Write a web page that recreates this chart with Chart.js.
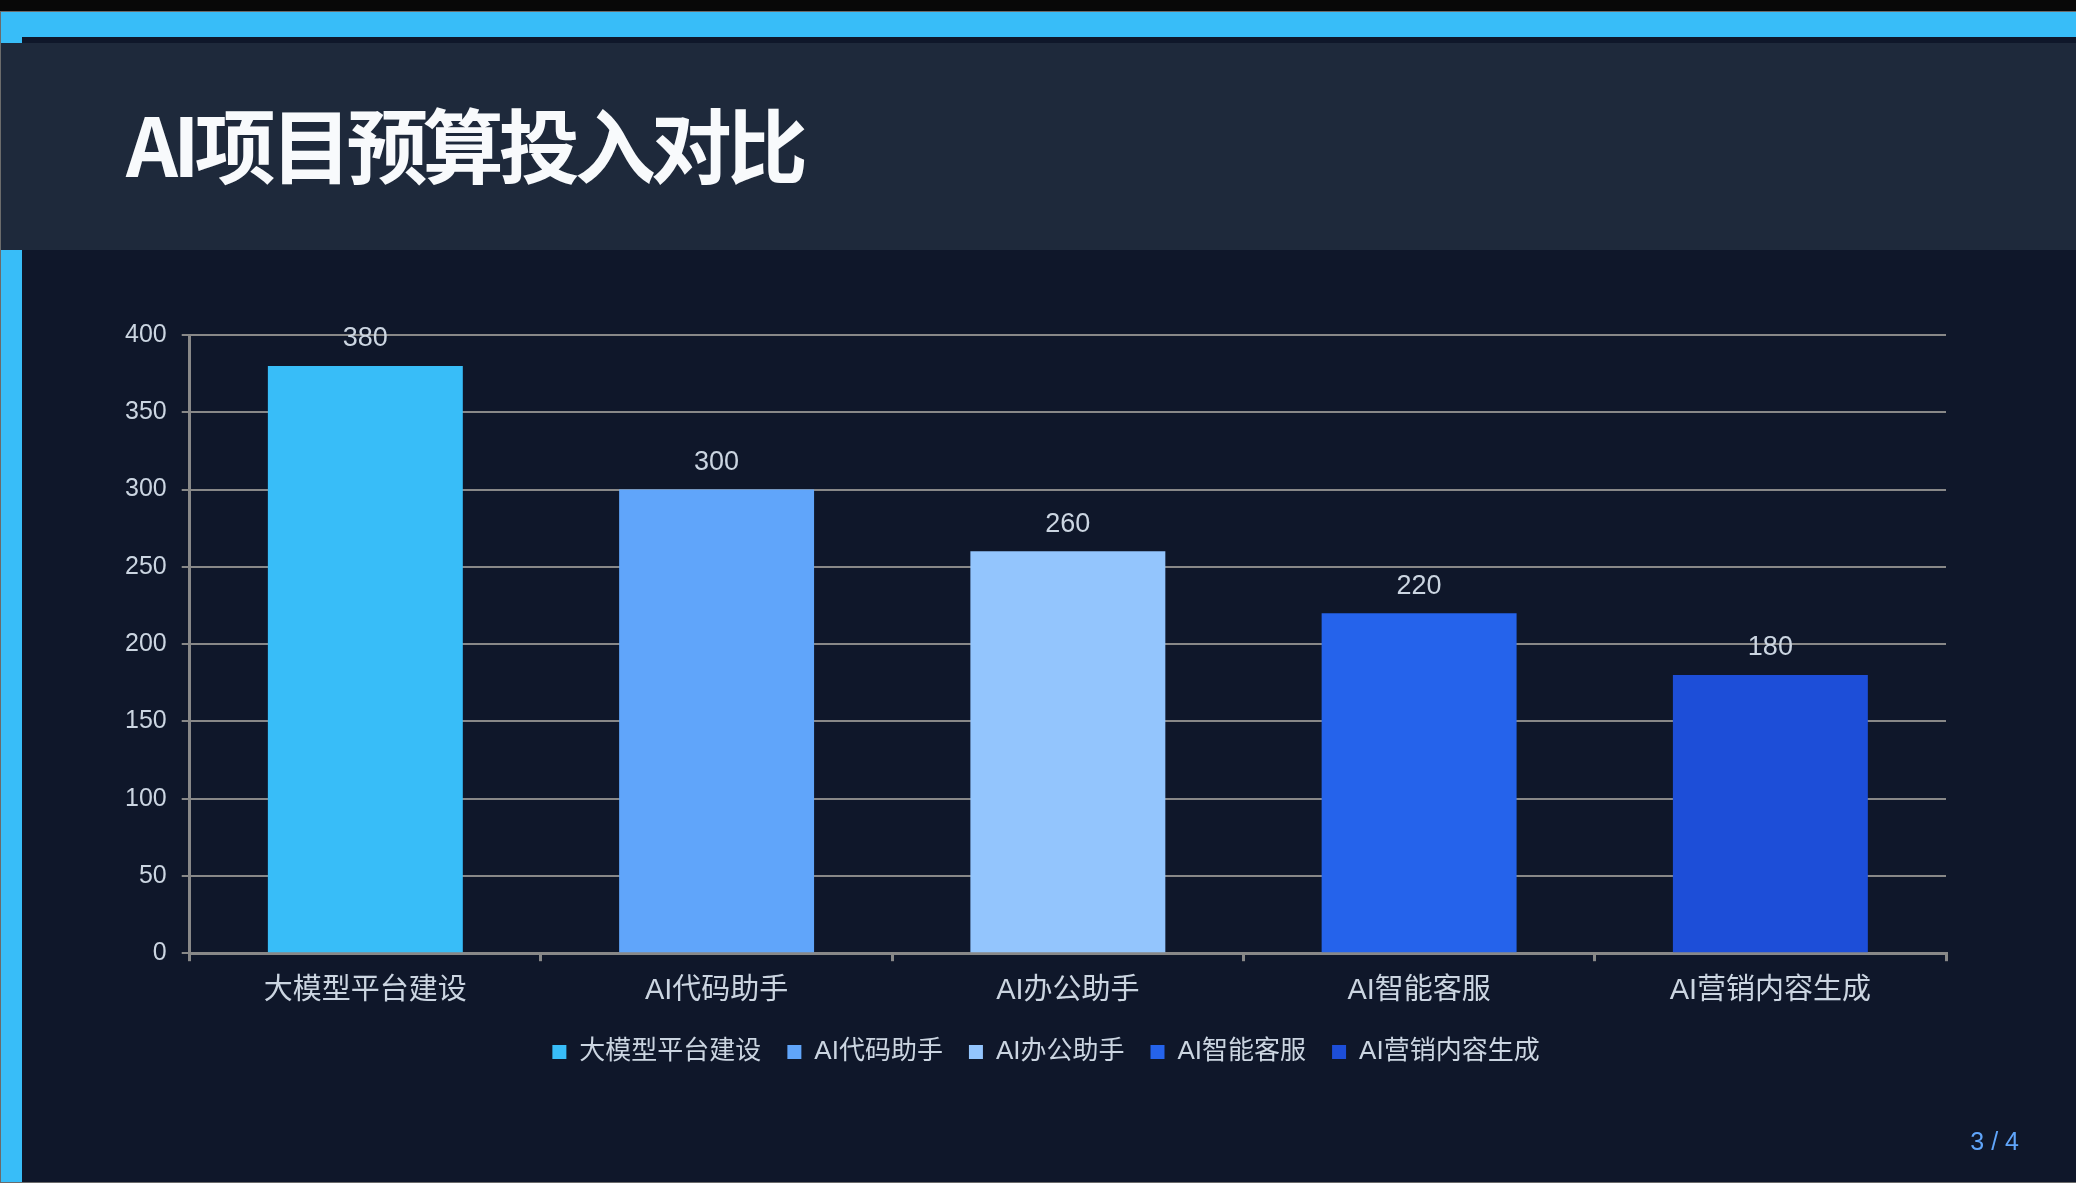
<!DOCTYPE html>
<html><head><meta charset="utf-8">
<script src="https://cdn.jsdelivr.net/npm/chart.js@4.4.0/dist/chart.umd.min.js"></script>
<style>
html,body{margin:0;padding:0;background:#080808;width:2076px;height:1183px;overflow:hidden;}
#slide{position:absolute;left:0;top:11px;width:2076px;height:1172px;background:#0f172a;overflow:hidden;}
#frame{position:absolute;left:0;top:0;width:2076px;height:1172px;box-sizing:border-box;border-left:1px solid #6b6b6b;border-top:1px solid #6b6b6b;border-bottom:1px solid #6b6b6b;pointer-events:none;z-index:5;}
#topbar{position:absolute;left:0;top:0;width:2076px;height:26px;background:#38bdf8;}
#leftbar{position:absolute;left:0;top:26px;width:22px;height:1146px;background:#38bdf8;}
#header{position:absolute;left:0;top:32px;width:2076px;height:207px;background:#1e293b;}
#title{position:absolute;left:126px;top:90px;margin:0;font:700 81px "Noto Sans CJK SC";line-height:81px;letter-spacing:-5px;color:#f8fafc;white-space:nowrap;}
#page{position:absolute;right:57px;top:1118px;font:25px "Liberation Sans";line-height:25px;color:#60a5fa;}
#wrap{position:absolute;left:22px;top:239px;width:2054px;height:933px;}
</style>
</head><body>
<div id="slide">
  <div id="topbar"></div>
  <div id="leftbar"></div>
  <div id="header"></div>
  <h1 id="title">AI项目预算投入对比</h1>
  <div id="wrap"><canvas id="c" width="2054" height="933"></canvas></div>
  <div id="page">3 / 4</div>
  <div id="frame"></div>
</div>
<script>
const categories = ['大模型平台建设', 'AI代码助手', 'AI办公助手', 'AI智能客服', 'AI营销内容生成'];
const budgets = [380, 300, 260, 220, 180];
const barColors = ['#38bdf8', '#60a5fa', '#93c5fd', '#2563eb', '#1d4ed8'];
const yMin = 0, yMax = 400, yStep = 50;

const textColor = '#cbd5e1';
const gridColor = '#888888';
const FONT = '"Liberation Sans", "Noto Sans CJK SC", sans-serif';
const legendDX = 18, legendDY = -7;

const valueLabels = {
  id: 'valueLabels',
  afterDatasetsDraw(chart) {
    const ctx = chart.ctx;
    const meta = chart.getDatasetMeta(0);
    ctx.save();
    ctx.font = '27px ' + FONT;
    ctx.fillStyle = textColor;
    ctx.textAlign = 'center';
    ctx.textBaseline = 'middle';
    meta.data.forEach((bar, i) => {
      ctx.fillText(String(budgets[i]), bar.x, bar.y - 27);
    });
    ctx.restore();
  }
};

const legendShift = {
  id: 'legendShift',
  afterLayout(chart) {
    const l = chart.legend;
    if (!l) return;
    l.left += legendDX; l.right += legendDX;
    l.top += legendDY; l.bottom += legendDY;
  }
};

new Chart(document.getElementById('c'), {
  type: 'bar',
  data: {
    labels: categories,
    datasets: [{
      label: '预算',
      data: budgets,
      backgroundColor: barColors,
      borderWidth: 0,
      barPercentage: 0.555,
      categoryPercentage: 1.0
    }]
  },
  options: {
    responsive: false,
    animation: false,
    layout: { padding: { left: 88, right: 130, top: 85, bottom: 101 } },
    plugins: {
      tooltip: { enabled: false },
      legend: {
        position: 'bottom',
        onClick: null,
        labels: {
          color: textColor,
          font: { size: 26, family: FONT },
          boxWidth: 14,
          boxHeight: 14,
          padding: 26,
          generateLabels: (chart) => categories.map((c, i) => ({
            text: c,
            fillStyle: barColors[i],
            strokeStyle: barColors[i],
            lineWidth: 0,
            fontColor: textColor,
            hidden: false,
            index: i
          }))
        }
      }
    },
    scales: {
      x: {
        grid: { display: true, drawOnChartArea: false, drawTicks: true, tickLength: 8, color: gridColor, lineWidth: 3, offset: true },
        border: { display: true, color: gridColor, width: 3 },
        ticks: { color: textColor, font: { size: 29, family: FONT }, padding: 12, maxRotation: 0, autoSkip: false }
      },
      y: {
        min: yMin, max: yMax,
        grid: { color: gridColor, lineWidth: 2, tickLength: 8 },
        border: { display: true, color: gridColor, width: 3 },
        ticks: { stepSize: yStep, color: textColor, font: { size: 25, family: FONT }, padding: 15 }
      }
    }
  },
  plugins: [valueLabels, legendShift]
});
</script>
</body></html>
